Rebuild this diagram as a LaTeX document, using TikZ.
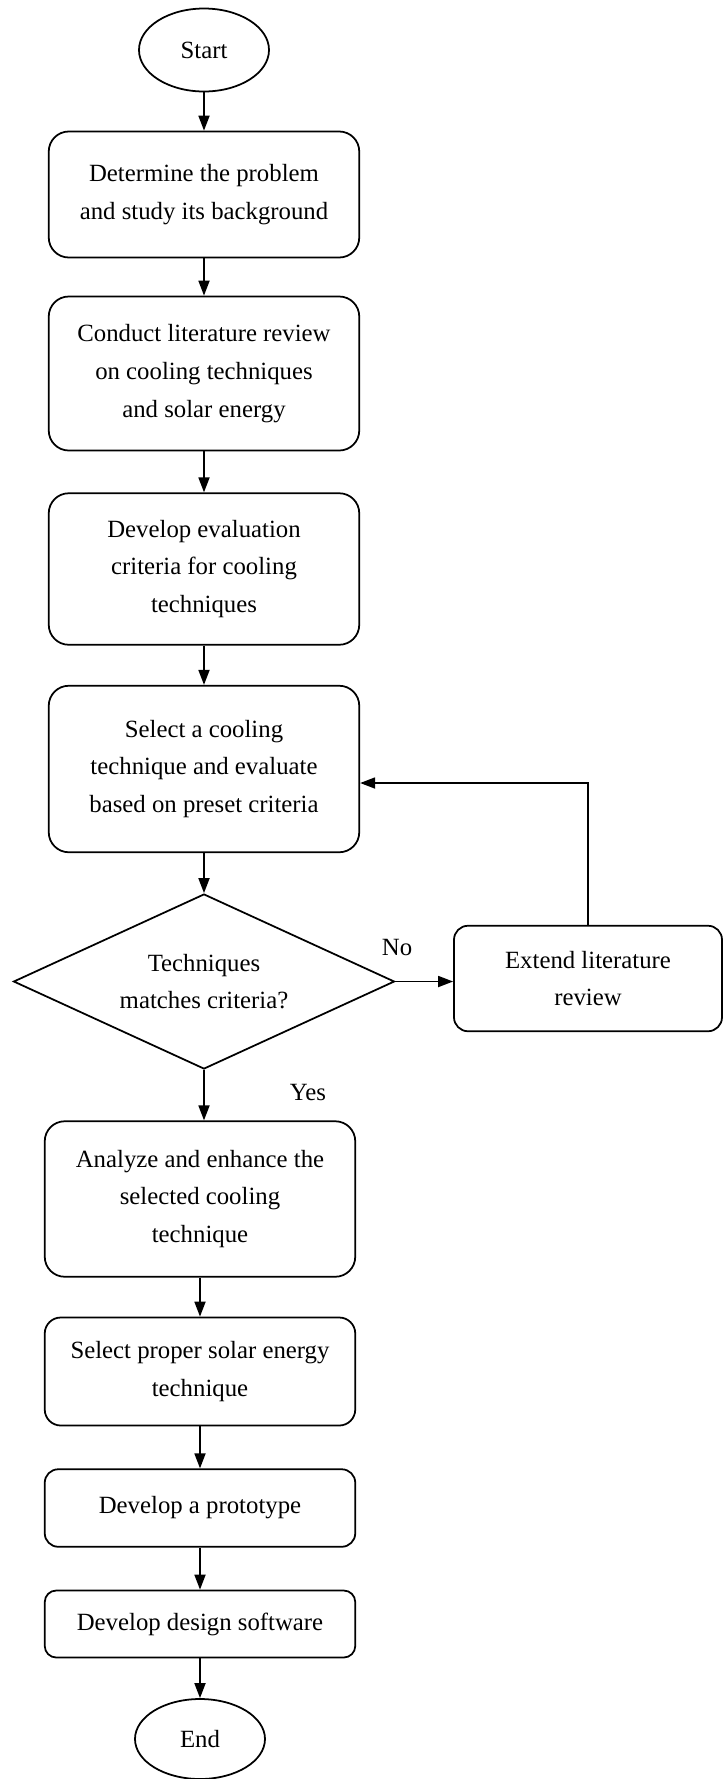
\documentclass[tikz,border=0pt]{standalone}
\usepackage{fontspec}
\setmainfont{Liberation Serif}
\usetikzlibrary{shapes.geometric,arrows.meta}

\begin{document}
\begin{tikzpicture}[
    font=\fontsize{14.1}{21.5}\selectfont,
    box/.style={
        rectangle,
        draw=black,
        line width=1pt,
        minimum width=6.21cm,
        text centered,
        align=center,
        rounded corners=0.4cm,
        inner sep=0pt
    },
    term/.style={
        ellipse,
        draw=black,
        line width=1pt,
        minimum width=2.6cm,
        minimum height=1.66cm
    },
    decision/.style={
        diamond,
        draw=black,
        line width=1pt,
        shape aspect=2.2,
        minimum width=7.62cm,
        minimum height=3.5cm,
        align=center,
        inner sep=0pt
    },
    arrow/.style={
        -{Triangle[length=0.3cm,width=0.22cm]},
        line width=1pt,
        color=black
    }
]
\useasboundingbox (0,0) rectangle (14.48,-35.58);

% Start
\node[term] (start) at (4.08,-1.0) {Start};

% Step 1
\node[box, minimum height=2.52cm] (step1) at (4.08,-3.89)
    {Determine the problem\\and study its background};

% Step 2
\node[box, minimum height=3.08cm] (step2) at (4.08,-7.47)
    {Conduct literature review\\on cooling techniques\\and solar energy};

% Step 3
\node[box, minimum height=3.03cm] (step3) at (4.08,-11.38)
    {Develop evaluation\\criteria for cooling\\techniques};

% Step 4
\node[box, minimum height=3.33cm] (step4) at (4.08,-15.38)
    {Select a cooling\\technique and evaluate\\based on preset criteria};

% Decision
\node[decision] (check) at (4.08,-19.63)
    {Techniques\\matches criteria?};

% Extend review
\node[box, minimum width=5.36cm, minimum height=2.11cm, rounded corners=0.28cm] (extend) at (11.76,-19.57)
    {Extend literature\\review};

% Step 5
\node[box, minimum height=3.11cm] (step5) at (4.0,-23.98)
    {Analyze and enhance the\\selected cooling\\technique};

% Step 6
\node[box, minimum height=2.16cm, rounded corners=0.32cm] (step6) at (4.0,-27.43)
    {Select proper solar energy\\technique};

% Step 7
\node[box, minimum height=1.55cm, rounded corners=0.27cm] (step7) at (4.0,-30.16)
    {Develop a prototype};

% Step 8
\node[box, minimum height=1.34cm, rounded corners=0.23cm] (step8) at (4.0,-32.48)
    {Develop design software};

% End
\node[term, minimum height=1.6cm] (finish) at (4.0,-34.78) {End};

% Labels
\node (no) at (7.94,-18.94) {No};
\node (yes) at (6.16,-21.84) {Yes};

% Arrows
\draw[arrow] (start.south) -- (step1.north);
\draw[arrow] (step1.south) -- (step2.north);
\draw[arrow] (step2.south) -- (step3.north);
\draw[arrow] (step3.south) -- (step4.north);
\draw[arrow] (step4.south) -- (check.north);
\draw[arrow] (check.south) -- (check.south |- step5.north);
\draw[arrow] (step5.south) -- (step6.north);
\draw[arrow] (step6.south) -- (step7.north);
\draw[arrow] (step7.south) -- (step8.north);
\draw[arrow] (step8.south) -- (finish.north);

% No branch and loop back
\draw[arrow] (check.east) -- (check.east -| extend.west);
\draw[arrow] (extend.north) |- ([yshift=-0.28cm]step4.east);

\end{tikzpicture}
\end{document}
